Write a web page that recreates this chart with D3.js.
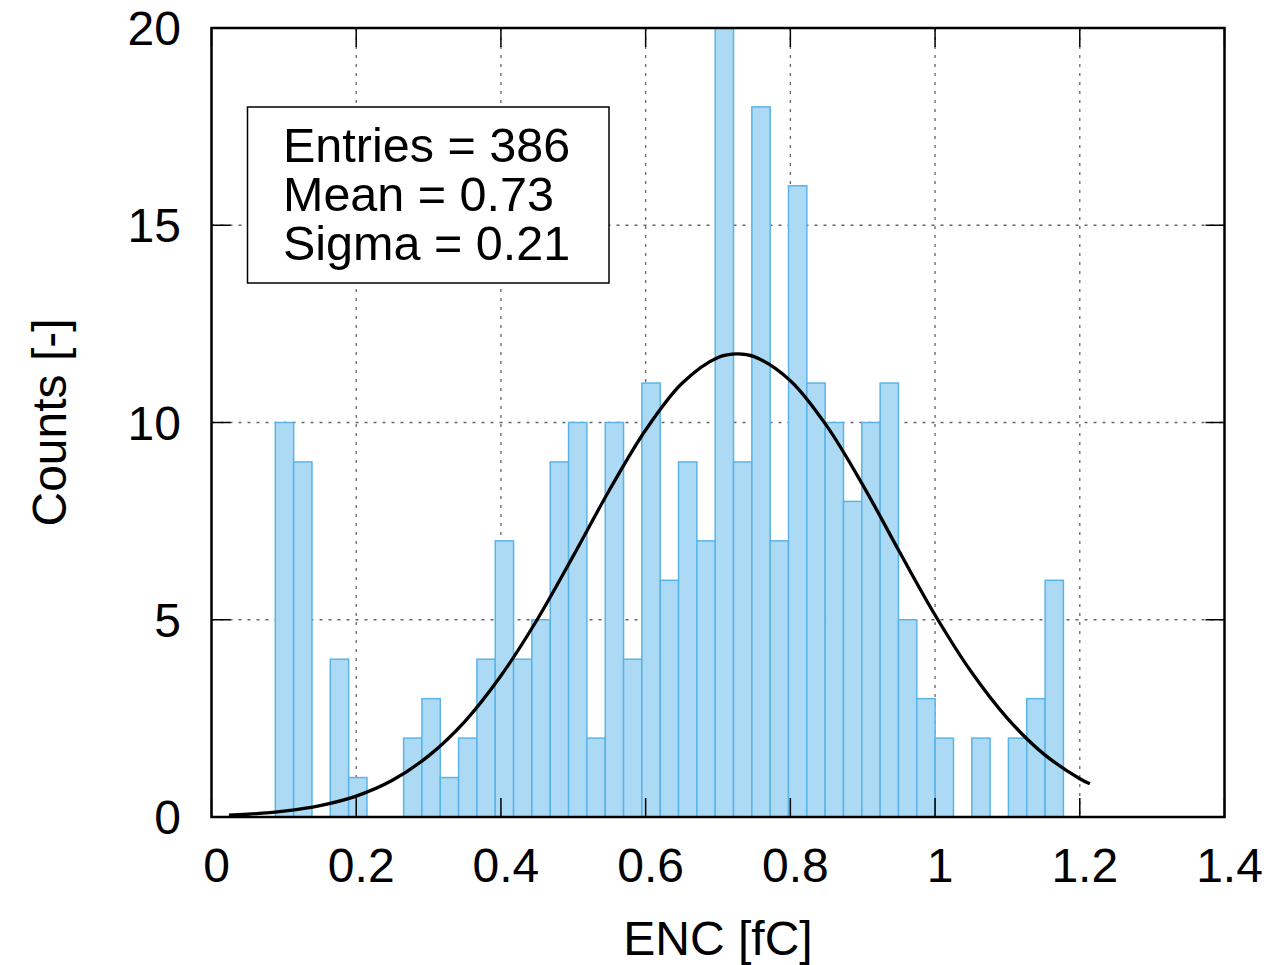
<!DOCTYPE html>
<html>
<head>
<meta charset="utf-8">
<script src="https://cdn.jsdelivr.net/npm/d3@7"></script>
<style>
  html, body { margin: 0; padding: 0; background: #fff; }
  svg { display: block; }
  text { font-family: "Liberation Sans", Arial, Helvetica, sans-serif; fill: #000; }
</style>
</head>
<body>
<svg id="chart" width="1280" height="965"></svg>
<script>
// ---- Data ----
const binStart = 0.0882;     // lower edge of first bin [fC]
const binWidth = 0.02533;    // bin width [fC]
const counts = [10, 9, 0, 4, 1, 0, 0, 2, 3, 1, 2, 4, 7, 4, 5, 9, 10, 2, 10, 4, 11,
                6, 9, 7, 20, 9, 18, 7, 16, 11, 10, 8, 10, 11, 5, 3, 2, 0, 2, 0, 2, 3, 6];
// Gaussian fit curve
const fitX = [0.024, 0.05, 0.1, 0.15, 0.2, 0.25, 0.3, 0.35, 0.4, 0.45, 0.5, 0.55, 0.6, 0.65,
              0.7, 0.727, 0.75, 0.8, 0.85, 0.9, 0.95, 1.0, 1.05, 1.1, 1.15, 1.2, 1.214];
const fitY = [0.05, 0.07, 0.15, 0.29, 0.53, 0.93, 1.55, 2.42, 3.58, 5.0, 6.62, 8.29, 9.81, 10.99,
              11.65, 11.74, 11.67, 11.06, 9.92, 8.42, 6.75, 5.12, 3.68, 2.5, 1.6, 0.97, 0.84];
const xTicks = [0, 0.2, 0.4, 0.6, 0.8, 1, 1.2, 1.4];
const xTickLabels = ["0", "0.2", "0.4", "0.6", "0.8", "1", "1.2", "1.4"];
const yTicks = [0, 5, 10, 15, 20];
const yTickLabels = ["0", "5", "10", "15", "20"];
const statsLines = ["Entries = 386", "Mean = 0.73", "Sigma = 0.21"];
const xTitle = "ENC [fC]";
const yTitle = "Counts [-]";

// ---- Layout ----
const L = 211.5, R = 1224.5, T = 28, B = 817;
const svg = d3.select("#chart");
const x = d3.scaleLinear().domain([0, 1.4]).range([L, R]);
const y = d3.scaleLinear().domain([0, 20]).range([B, T]);

svg.append("defs").append("clipPath").attr("id", "plotclip")
  .append("rect").attr("x", L).attr("y", T).attr("width", R - L).attr("height", B - T);

// grid
const grid = svg.append("g");
grid.selectAll(".gx").data(xTicks.filter(d => d > 0 && d < 1.4)).enter().append("line")
  .attr("x1", d => x(d)).attr("x2", d => x(d)).attr("y1", T).attr("y2", B)
  .attr("stroke", "#666").attr("stroke-width", 1.3).attr("stroke-dasharray", "3,6");
grid.selectAll(".gy").data(yTicks.filter(d => d > 0 && d < 20)).enter().append("line")
  .attr("x1", L).attr("x2", R).attr("y1", d => y(d)).attr("y2", d => y(d))
  .attr("stroke", "#666").attr("stroke-width", 1.3).attr("stroke-dasharray", "3,6");

// bars
const bars = counts.map((c, i) => ({ x0: binStart + i * binWidth, x1: binStart + (i + 1) * binWidth, c }))
  .filter(d => d.c > 0);
svg.append("g").attr("clip-path", "url(#plotclip)")
  .selectAll("rect").data(bars).enter().append("rect")
  .attr("x", d => x(d.x0)).attr("width", d => x(d.x1) - x(d.x0))
  .attr("y", d => y(d.c)).attr("height", d => y(0) - y(d.c))
  .attr("fill", "#acdaf4").attr("stroke", "#5ab4e8").attr("stroke-width", 1.5);

// ticks (inward, on all four sides)
const tk = svg.append("g").attr("stroke", "#000").attr("stroke-width", 1.5);
xTicks.forEach(v => {
  tk.append("line").attr("x1", x(v)).attr("x2", x(v)).attr("y1", B).attr("y2", B - 19);
  tk.append("line").attr("x1", x(v)).attr("x2", x(v)).attr("y1", T).attr("y2", T + 19);
});
yTicks.forEach(v => {
  tk.append("line").attr("x1", L).attr("x2", L + 19).attr("y1", y(v)).attr("y2", y(v));
  tk.append("line").attr("x1", R).attr("x2", R - 19).attr("y1", y(v)).attr("y2", y(v));
});

// fit curve
const line = d3.line().x((d, i) => x(fitX[i])).y(d => y(d)).curve(d3.curveCatmullRom);
svg.append("path").datum(fitY).attr("d", line)
  .attr("fill", "none").attr("stroke", "#000").attr("stroke-width", 3.3);

// frame
svg.append("rect").attr("x", L).attr("y", T).attr("width", R - L).attr("height", B - T)
  .attr("fill", "none").attr("stroke", "#000").attr("stroke-width", 2.5);

// tick labels
svg.append("g").selectAll("text").data(xTicks).enter().append("text")
  .attr("x", d => x(d) + 5).attr("y", 881.5).attr("text-anchor", "middle")
  .attr("font-size", 48).text((d, i) => xTickLabels[i]);
svg.append("g").selectAll("text").data(yTicks).enter().append("text")
  .attr("x", 181).attr("y", d => y(d) + 17).attr("text-anchor", "end")
  .attr("font-size", 48).text((d, i) => yTickLabels[i]);

// axis titles
svg.append("text").attr("x", (L + R) / 2).attr("y", 955).attr("text-anchor", "middle")
  .attr("font-size", 48).text(xTitle);
svg.append("text").attr("transform", "translate(66," + (T + B) / 2 + ") rotate(-90)")
  .attr("text-anchor", "middle").attr("font-size", 48).text(yTitle);

// stats box
svg.append("rect").attr("x", 247.5).attr("y", 107).attr("width", 361.5).attr("height", 176)
  .attr("fill", "#fff").attr("stroke", "#000").attr("stroke-width", 1.5);
svg.append("g").selectAll("text").data(statsLines).enter().append("text")
  .attr("x", 283).attr("y", (d, i) => 161.5 + i * 49)
  .attr("font-size", 48.5).text(d => d);
</script>
</body>
</html>
